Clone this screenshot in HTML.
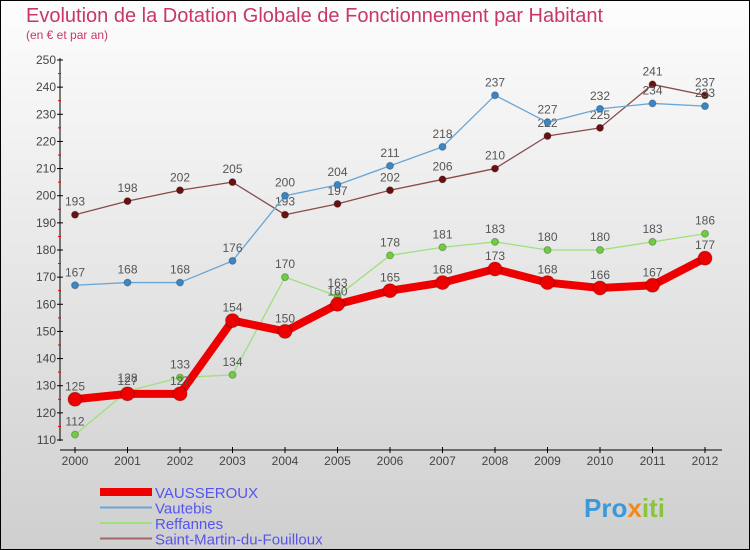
<!DOCTYPE html>
<html><head><meta charset="utf-8"><style>
body{margin:0;width:750px;height:550px;overflow:hidden}
svg{display:block;font-family:"Liberation Sans",sans-serif}
</style></head><body>
<svg id="c" width="750" height="550">
<defs><linearGradient id="bg" x1="0" y1="0" x2="0" y2="1"><stop offset="0" stop-color="#fdfdfd"/><stop offset="1" stop-color="#cfcfcf"/></linearGradient></defs>
<rect x="0.5" y="0.5" width="749" height="549" fill="url(#bg)" stroke="#000"/>
<text x="26" y="22" font-size="20" fill="#c8366a">Evolution de la Dotation Globale de Fonctionnement par Habitant</text>
<text x="26" y="39" font-size="12" fill="#c8366a">(en € et par an)</text>
<g id="axes"></g><g id="series"></g><g id="legend"></g>
<text x="584" y="517" font-size="26" font-weight="bold" fill="#3a9ad9">Pro<tspan fill="#f08a1c">x</tspan><tspan fill="#8ac43f">iti</tspan></text>
</svg>
<script>
const years=[2000,2001,2002,2003,2004,2005,2006,2007,2008,2009,2010,2011,2012];
const vausseroux=[125,127,127,154,150,160,165,168,173,168,166,167,177];
const vautebis=[167,168,168,176,200,204,211,218,237,227,232,234,233];
const reffannes=[112,128,133,134,170,163,178,181,183,180,180,183,186];
const saintMartin=[193,198,202,205,193,197,202,206,210,222,225,241,237];
const yTicks=[110,120,130,140,150,160,170,180,190,200,210,220,230,240,250];
const NS="http://www.w3.org/2000/svg";
const X=i=>75+i*52.5, Y=v=>440-(v-110)*380/140;
function mk(p,t,a){const e=document.createElementNS(NS,t);for(const k in a)e.setAttribute(k,a[k]);p.appendChild(e);return e;}
const ax=document.getElementById('axes');
let l=mk(ax,'line',{x1:60,y1:58,x2:60,y2:441,stroke:'#000'});


l=mk(ax,'line',{x1:60,y1:450,x2:722,y2:450,stroke:'#000'});


yTicks.forEach(v=>{mk(ax,'line',{x1:57,y1:Y(v),x2:63,y2:Y(v),stroke:'#000'});
 if(v<250)mk(ax,'line',{x1:58,y1:Y(v+5),x2:61,y2:Y(v+5),stroke:'#e00'});
 const t=mk(ax,'text',{x:56,y:Y(v)+4,'font-size':12,fill:'#444','text-anchor':'end'});t.textContent=v;
 
 });
years.forEach((yr,i)=>{mk(ax,'line',{x1:X(i),y1:447,x2:X(i),y2:453,stroke:'#000'});
 const t=mk(ax,'text',{x:X(i),y:465,'font-size':12,fill:'#444','text-anchor':'middle'});t.textContent=yr;
 
 });
const sg=document.getElementById('series');
function draw(data,color,dot,w,r,name){const g=mk(sg,'g',{});
 
 
 mk(g,'polyline',{points:data.map((v,i)=>X(i)+','+Y(v)).join(' '),fill:'none',stroke:color,'stroke-width':w,'stroke-linejoin':'round'});
 data.forEach((v,i)=>{const c=mk(g,'circle',{cx:X(i),cy:Y(v),r:r,fill:dot,stroke:'rgba(0,0,0,0.25)'});
  
  
  const t=mk(g,'text',{x:X(i),y:Y(v)-9,'font-size':12,fill:'#555','text-anchor':'middle'});t.textContent=v;
  
  });}
draw(saintMartin,'#8a4a4a','#6a1010',1.3,3.5,'saint-martin');
draw(vautebis,'#6aa6d6','#3a86c6',1.3,3.5,'vautebis');
draw(reffannes,'#9ee07a','#70cc40',1.3,3.5,'reffannes');
draw(vausseroux,'#ee0000','#ee0000',8,7,'vausseroux');
const lg=document.getElementById('legend');
[['VAUSSEROUX','#ee0000',8],['Vautebis','#6aa6d6',2],['Reffannes','#9ee07a',2],['Saint-Martin-du-Fouilloux','#a06868',2]].forEach((s,i)=>{
 const y=492+i*15.5;const g=mk(lg,'g',{});
 
 
 mk(g,'line',{x1:100,y1:y,x2:152,y2:y,stroke:s[1],'stroke-width':s[2]});
 const t=mk(g,'text',{x:155,y:y+6,'font-size':15,fill:'#5555ee'});t.textContent=s[0];});
</script>
</body></html>
